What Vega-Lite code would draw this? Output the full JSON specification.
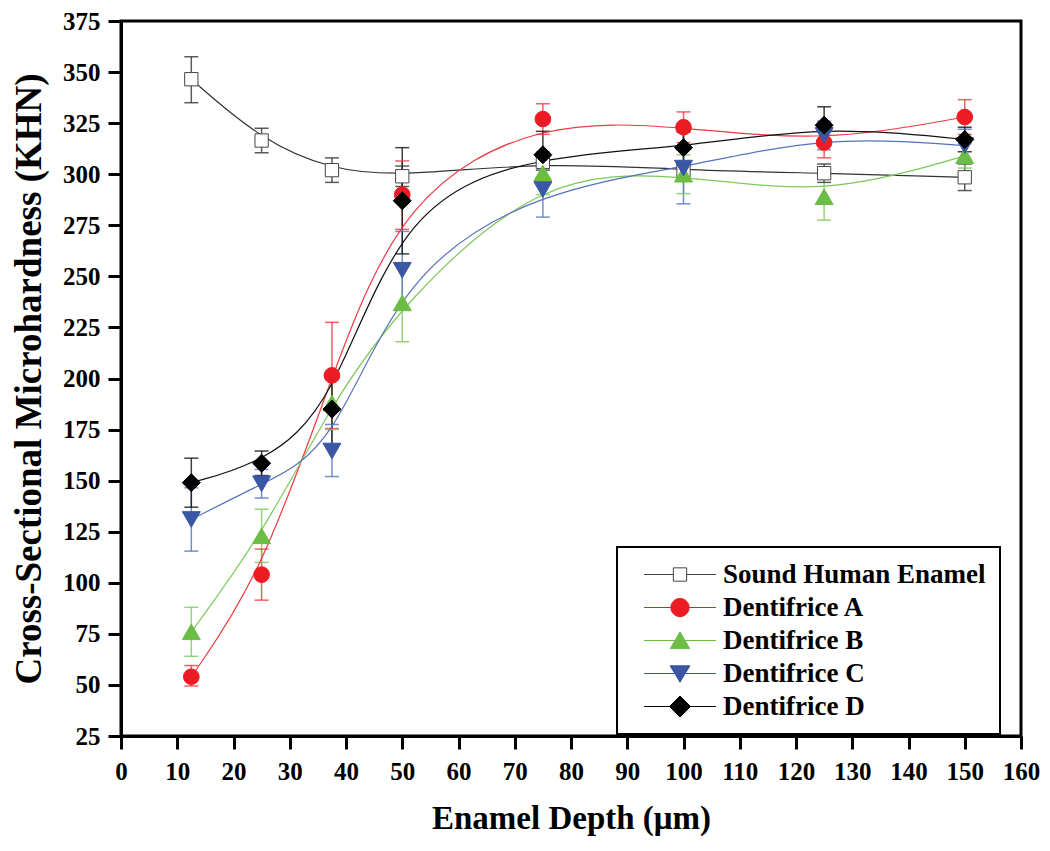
{
  "$schema": "https://vega.github.io/schema/vega-lite/v6.json",
  "width": 900,
  "height": 715,
  "autosize": {"type": "none"},
  "padding": {"left": 121, "top": 21, "right": 29, "bottom": 115},
  "background": "white",
  "config": {
    "view": {"stroke": "black", "strokeWidth": 3},
    "axis": {
      "grid": false,
      "domainColor": "black",
      "domainWidth": 3,
      "tickColor": "black",
      "tickWidth": 3,
      "tickSize": 13,
      "labelFont": "Liberation Serif",
      "labelFontWeight": "bold",
      "labelFontSize": 25,
      "labelColor": "black",
      "titleFont": "Liberation Serif",
      "titleFontWeight": "bold",
      "titleFontSize": 33,
      "titleColor": "black"
    },
    "legend": {
      "strokeWidth": 2,
      "orient": "none", "legendX": 496, "legendY": 526,
      "padding": 14, "strokeColor": "black",
      "symbolSize": 196, "symbolStrokeWidth": 1, "symbolOpacity": 1,
      "symbolOffset": 35.5, "labelOffset": 29.5, "rowPadding": 5,
      "labelFont": "Liberation Serif", "labelFontWeight": "bold", "labelFontSize": 27, "labelColor": "black", "labelLimit": 0
    }
  },
  "data": {
    "values": [
      {"series": "Sound Human Enamel", "depth": 12.5, "khn": 346.5, "lo": 335, "hi": 357.5},
      {"series": "Sound Human Enamel", "depth": 25, "khn": 316.5, "lo": 310.5, "hi": 322.5},
      {"series": "Sound Human Enamel", "depth": 37.5, "khn": 302, "lo": 296, "hi": 308},
      {"series": "Sound Human Enamel", "depth": 50, "khn": 299, "lo": 294, "hi": 304},
      {"series": "Sound Human Enamel", "depth": 75, "khn": 306, "lo": 302, "hi": 310},
      {"series": "Sound Human Enamel", "depth": 100, "khn": 302, "lo": 298, "hi": 306},
      {"series": "Sound Human Enamel", "depth": 125, "khn": 300.5, "lo": 296, "hi": 305},
      {"series": "Sound Human Enamel", "depth": 150, "khn": 298.5, "lo": 292, "hi": 305},
      {"series": "Dentifrice A", "depth": 12.5, "khn": 54, "lo": 49.5, "hi": 59.5},
      {"series": "Dentifrice A", "depth": 25, "khn": 104, "lo": 91.5, "hi": 116.5},
      {"series": "Dentifrice A", "depth": 37.5, "khn": 201.5, "lo": 175.5, "hi": 227.5},
      {"series": "Dentifrice A", "depth": 50, "khn": 290, "lo": 273, "hi": 306.5},
      {"series": "Dentifrice A", "depth": 75, "khn": 327, "lo": 319.5, "hi": 334.5},
      {"series": "Dentifrice A", "depth": 100, "khn": 323, "lo": 315.5, "hi": 330.5},
      {"series": "Dentifrice A", "depth": 125, "khn": 315.5, "lo": 308, "hi": 323},
      {"series": "Dentifrice A", "depth": 150, "khn": 328, "lo": 319.5, "hi": 336.5},
      {"series": "Dentifrice B", "depth": 12.5, "khn": 76, "lo": 64, "hi": 88},
      {"series": "Dentifrice B", "depth": 25, "khn": 123, "lo": 110, "hi": 136},
      {"series": "Dentifrice B", "depth": 37.5, "khn": 188, "lo": 175, "hi": 201},
      {"series": "Dentifrice B", "depth": 50, "khn": 237, "lo": 218, "hi": 256},
      {"series": "Dentifrice B", "depth": 75, "khn": 300.5, "lo": 290, "hi": 311},
      {"series": "Dentifrice B", "depth": 100, "khn": 300, "lo": 290.5, "hi": 309.5},
      {"series": "Dentifrice B", "depth": 125, "khn": 289, "lo": 277.5, "hi": 300.5},
      {"series": "Dentifrice B", "depth": 150, "khn": 309, "lo": 303, "hi": 315},
      {"series": "Dentifrice C", "depth": 12.5, "khn": 131, "lo": 115.5, "hi": 146.5},
      {"series": "Dentifrice C", "depth": 25, "khn": 148.5, "lo": 141.5, "hi": 155.5},
      {"series": "Dentifrice C", "depth": 37.5, "khn": 164.5, "lo": 152, "hi": 177.5},
      {"series": "Dentifrice C", "depth": 50, "khn": 253, "lo": 234, "hi": 272},
      {"series": "Dentifrice C", "depth": 75, "khn": 292.5, "lo": 279, "hi": 306},
      {"series": "Dentifrice C", "depth": 100, "khn": 303, "lo": 285.5, "hi": 320.5},
      {"series": "Dentifrice C", "depth": 125, "khn": 319, "lo": 312, "hi": 326},
      {"series": "Dentifrice C", "depth": 150, "khn": 314, "lo": 306, "hi": 322},
      {"series": "Dentifrice D", "depth": 12.5, "khn": 149, "lo": 137, "hi": 161},
      {"series": "Dentifrice D", "depth": 25, "khn": 158.5, "lo": 152.5, "hi": 164.5},
      {"series": "Dentifrice D", "depth": 37.5, "khn": 185, "lo": 167.5, "hi": 202.5},
      {"series": "Dentifrice D", "depth": 50, "khn": 287, "lo": 261, "hi": 313},
      {"series": "Dentifrice D", "depth": 75, "khn": 309.5, "lo": 298, "hi": 321},
      {"series": "Dentifrice D", "depth": 100, "khn": 313, "lo": 305, "hi": 321},
      {"series": "Dentifrice D", "depth": 125, "khn": 324, "lo": 315, "hi": 333},
      {"series": "Dentifrice D", "depth": 150, "khn": 317, "lo": 311, "hi": 323}
    ]
  },
  "encoding": {
    "x": {
      "field": "depth", "type": "quantitative",
      "scale": {"domain": [0, 160], "nice": false},
      "axis": {"values": [0,10,20,30,40,50,60,70,80,90,100,110,120,130,140,150,160], "title": "Enamel Depth (μm)", "labelPadding": 10, "titlePadding": 18, "labelFlush": false}
    }
  },
  "resolve": {"scale": {"shape": "independent", "fill": "independent", "stroke": "independent", "size": "independent"}},
  "layer": [
    {
      "mark": {"type": "rule", "strokeWidth": 1.5, "opacity": 0.8},
      "encoding": {
        "y": {"field": "lo", "type": "quantitative",
          "scale": {"domain": [25, 375], "nice": false, "zero": false},
          "axis": {"values": [25,50,75,100,125,150,175,200,225,250,275,300,325,350,375], "title": "Cross-Sectional Microhardness (KHN)", "titleFontSize": 37, "labelPadding": 8, "titlePadding": 14, "labelFlush": false}},
        "y2": {"field": "hi"},
        "color": {"field": "series", "type": "nominal", "legend": null,
          "scale": {"range": ["#EE3A42", "#7DC85A", "#5572BF", "#111111", "#333333"]}}
      }
    },
    {
      "mark": {"type": "tick", "orient": "horizontal", "size": 14, "thickness": 1.5, "opacity": 0.8},
      "encoding": {
        "y": {"field": "lo", "type": "quantitative"},
        "color": {"field": "series", "type": "nominal", "legend": null}
      }
    },
    {
      "mark": {"type": "tick", "orient": "horizontal", "size": 14, "thickness": 1.5, "opacity": 0.8},
      "encoding": {
        "y": {"field": "hi", "type": "quantitative"},
        "color": {"field": "series", "type": "nominal", "legend": null}
      }
    },
    {
      "mark": {"type": "line", "interpolate": "basis", "strokeWidth": 1.2},
      "encoding": {
        "y": {"field": "khn", "type": "quantitative"},
        "color": {"field": "series", "type": "nominal", "legend": null}
      }
    },
    {
      "mark": {"type": "point", "filled": false, "opacity": 1, "strokeWidth": 1},
      "encoding": {
        "y": {"field": "khn", "type": "quantitative"},
        "shape": {"field": "series", "type": "nominal", "legend": null,
          "scale": {"domain": ["Sound Human Enamel", "Dentifrice A", "Dentifrice B", "Dentifrice C", "Dentifrice D"], "range": ["square", "circle", "triangle-up", "triangle-down", "diamond"]}},
        "fill": {"field": "series", "type": "nominal", "legend": null,
          "scale": {"domain": ["Sound Human Enamel", "Dentifrice A", "Dentifrice B", "Dentifrice C", "Dentifrice D"], "range": ["#FFFFFF", "#ED1C24", "#6BBD45", "#3A56A5", "#000000"]}},
        "stroke": {"field": "series", "type": "nominal", "legend": null,
          "scale": {"domain": ["Sound Human Enamel", "Dentifrice A", "Dentifrice B", "Dentifrice C", "Dentifrice D"], "range": ["#444444", "#ED1C24", "#6BBD45", "#3A56A5", "#000000"]}},
        "size": {"field": "series", "type": "nominal", "legend": null,
          "scale": {"type": "ordinal", "range": [246, 324, 324, 324, 177]}}
      }
    },
    {
      "transform": [{"filter": "false"}],
      "mark": {"type": "point", "filled": false, "opacity": 1, "strokeWidth": 1},
      "encoding": {
        "y": {"field": "khn", "type": "quantitative"},
        "shape": {"field": "series", "type": "nominal", "legend": {"title": null},
          "scale": {"domain": ["Sound Human Enamel", "Dentifrice A", "Dentifrice B", "Dentifrice C", "Dentifrice D"],
            "range": [
              "M-5.14,0L-0.95,0M0.95,0L5.14,0M-0.95,-0.95L0.95,-0.95L0.95,0.95L-0.95,0.95Z",
              "M-5.14,0L5.14,0M1.3,0A1.3,1.3,0,1,1,-1.3,0A1.3,1.3,0,1,1,1.3,0Z",
              "M-5.14,0L5.14,0M0,-1.25L1.38,1.15L-1.38,1.15Z",
              "M-5.14,0L5.14,0M0,1.25L1.42,-1.1L-1.42,-1.1Z",
              "M-5.14,0L5.14,0M0,-1.5L1.5,0L0,1.5L-1.5,0Z"
            ]}},
        "fill": {"field": "series", "type": "nominal", "legend": {"title": null},
          "scale": {"domain": ["Sound Human Enamel", "Dentifrice A", "Dentifrice B", "Dentifrice C", "Dentifrice D"], "range": ["#FFFFFF", "#ED1C24", "#6BBD45", "#3A56A5", "#000000"]}},
        "stroke": {"field": "series", "type": "nominal", "legend": {"title": null},
          "scale": {"domain": ["Sound Human Enamel", "Dentifrice A", "Dentifrice B", "Dentifrice C", "Dentifrice D"], "range": ["#444444", "#ED1C24", "#6BBD45", "#3A56A5", "#000000"]}}
      }
    }
  ]
}
